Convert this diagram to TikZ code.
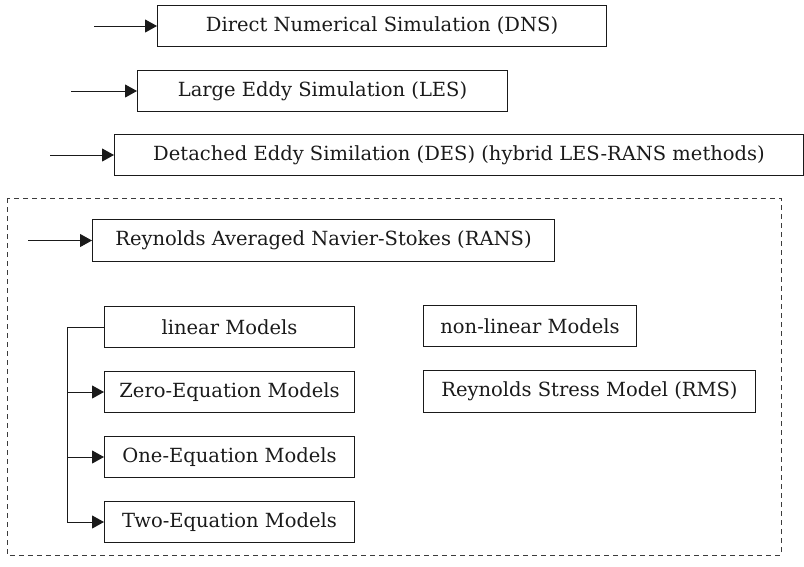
\documentclass[tikz,border=0pt]{standalone}
\usepackage{fontspec}
\setmainfont{DejaVu Serif}
\usetikzlibrary{arrows.meta}
\definecolor{ink}{HTML}{1A1A1A}
\tikzset{
  box/.style={draw=ink, line width=1pt, text=ink, anchor=north west, inner sep=0pt,
    font=\fontsize{19.5}{23}\selectfont},
  arr/.style={draw=ink, line width=1pt, -{Triangle[length=12pt,width=13pt]}},
  dashbox/.style={draw=ink!85, line width=0.9pt, dash pattern=on 5pt off 4pt}
}
\begin{document}
\begin{tikzpicture}[x=1pt,y=-1pt]
\useasboundingbox (0,0) rectangle (804,566);
% dashed frame
\draw[dashbox] (7,198) rectangle (781,555);
% top boxes
\node[box, minimum width=449pt, minimum height=41pt] (dns) at (157,5) {Direct Numerical Simulation (DNS)};
\node[box, minimum width=370pt, minimum height=41pt] (les) at (137,70) {Large Eddy Simulation (LES)};
\node[box, minimum width=689pt, minimum height=41pt] (des) at (114,134) {Detached Eddy Similation (DES) (hybrid LES-RANS methods)};
\node[box, minimum width=462pt, minimum height=42pt] (rans) at (92,219) {Reynolds Averaged Navier-Stokes (RANS)};
% linear branch
\node[box, minimum width=250pt, minimum height=41pt] (lin) at (104,306) {linear Models};
\node[box, minimum width=250pt, minimum height=41pt] (zero) at (104,371) {Zero-Equation Models};
\node[box, minimum width=250pt, minimum height=41pt] (one) at (104,436) {One-Equation Models};
\node[box, minimum width=250pt, minimum height=41pt] (two) at (104,501) {Two-Equation Models};
% non-linear
\node[box, minimum width=213pt, minimum height=41pt] (nonlin) at (423,305) {non-linear Models};
\node[box, minimum width=332pt, minimum height=42pt] (rsm) at (423,370) {Reynolds Stress Model (RMS)};
% free ends
\coordinate (sdns) at (94,0 |- dns.west);
\coordinate (sles) at (71,0 |- les.west);
\coordinate (sdes) at (50,0 |- des.west);
\coordinate (srans) at (28,0 |- rans.west);
\coordinate (br) at (67,0 |- lin.west);
\draw[arr] (sdns) -- (dns.west);
\draw[arr] (sles) -- (les.west);
\draw[arr] (sdes) -- (des.west);
\draw[arr] (srans) -- (rans.west);
\draw[arr] (lin.west) -- (br) |- (two.west);
\draw[arr] (br |- zero.west) -- (zero.west);
\draw[arr] (br |- one.west) -- (one.west);
\end{tikzpicture}
\end{document}
